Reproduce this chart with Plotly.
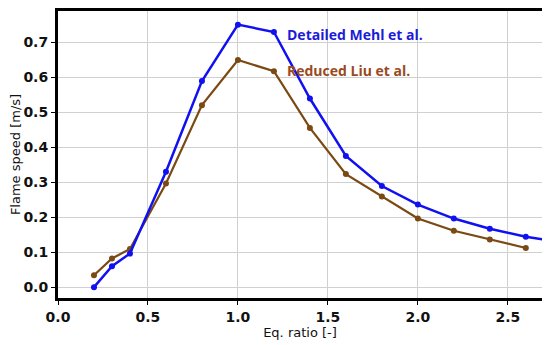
import plotly.graph_objects as go

eq_ratio = [0.2, 0.3, 0.4, 0.6, 0.8, 1.0, 1.2, 1.4, 1.6, 1.8, 2.0, 2.2, 2.4, 2.6, 2.8]
detailed_mehl = [0.0, 0.06, 0.096, 0.33, 0.589, 0.750, 0.729, 0.539, 0.375, 0.289, 0.236, 0.196, 0.167, 0.144, 0.128]
eq_ratio_red = [0.2, 0.3, 0.4, 0.6, 0.8, 1.0, 1.2, 1.4, 1.6, 1.8, 2.0, 2.2, 2.4, 2.6]
reduced_liu = [0.034, 0.082, 0.109, 0.296, 0.52, 0.649, 0.617, 0.455, 0.323, 0.259, 0.196, 0.161, 0.136, 0.112]

x_ticks = [0.0, 0.5, 1.0, 1.5, 2.0, 2.5]
y_ticks = [0.0, 0.1, 0.2, 0.3, 0.4, 0.5, 0.6, 0.7]

blue = "#1010f0"
brown = "#7a4a12"

fig = go.Figure()
fig.add_trace(go.Scatter(x=eq_ratio_red, y=reduced_liu, mode="lines+markers",
                         line=dict(color=brown, width=2.2), marker=dict(color=brown, size=6),
                         name="Reduced Liu et al.", cliponaxis=True))
fig.add_trace(go.Scatter(x=eq_ratio, y=detailed_mehl, mode="lines+markers",
                         line=dict(color=blue, width=2.5), marker=dict(color=blue, size=6),
                         name="Detailed Mehl et al.", cliponaxis=True))

fig.add_annotation(x=1.26, y=0.721, xref="x", yref="y", text="<b>Detailed Mehl et al.</b>",
                   showarrow=False, xanchor="left", font=dict(family="Open Sans", size=14, color="#1c1cd8"))
fig.add_annotation(x=1.26, y=0.618, xref="x", yref="y", text="<b>Reduced Liu et al.</b>",
                   showarrow=False, xanchor="left", font=dict(family="Open Sans", size=14, color="#9a4a1c"))

axis_common = dict(showgrid=True, gridcolor="#d0d0d0", gridwidth=1, zeroline=False,
                   showline=True, linecolor="black", linewidth=3, mirror=True,
                   ticks="outside", ticklen=4, tickcolor="black", automargin=False,
                   tickfont=dict(family="DejaVu Sans", size=14, color="#111", weight="bold"))

fig.update_xaxes(range=[0, 2.69], tickvals=x_ticks, ticktext=[f"{v:.1f}" for v in x_ticks],
                 title=dict(text="Eq. ratio [-]", font=dict(family="DejaVu Sans", size=13, color="#111"), standoff=4),
                 **axis_common)
fig.update_yaxes(range=[-0.031, 0.789], tickvals=y_ticks, ticktext=[f"{v:.1f}" for v in y_ticks],
                 title=dict(text="Flame speed [m/s]", font=dict(family="DejaVu Sans", size=13, color="#111"), standoff=6),
                 **axis_common)

fig.update_layout(width=550, height=345, margin=dict(l=50, r=16, t=3, b=55),
                  paper_bgcolor="white", plot_bgcolor="white", showlegend=False)

fig.write_html("out.html")
